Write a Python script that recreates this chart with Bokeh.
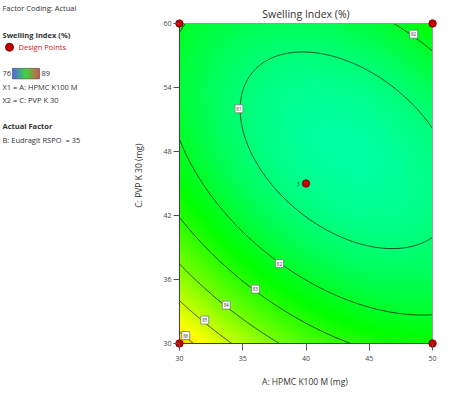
import numpy as np
from bokeh.plotting import figure
from bokeh.layouts import row
from bokeh.models import Range1d, FixedTicker
from bokeh.core.properties import value
from bokeh.embed import file_html
from bokeh.resources import INLINE

FONT = "Open Sans"

# ---------------- data ----------------
title_text = "Swelling Index (%)"
x_label = "A: HPMC K100 M  (mg)"
y_label = "C: PVP K 30  (mg)"
x_ticks = [30, 35, 40, 45, 50]
y_ticks = [30, 36, 42, 48, 54, 60]
color_low = 76
color_high = 89
contour_levels = [81, 82, 83, 84, 85, 86]

# points (A in mg, C in mg)
c81_x = [50.0, 45.2, 39.7, 36.1, 34.8, 34.8, 36.4, 38.2, 41.3, 46.5, 50.0]
c81_y = [50.0, 54.9, 57.3, 55.9, 53.1, 49.7, 45.3, 42.5, 40.6, 38.7, 39.8]
c82_x = [30.0, 32.2, 34.8, 37.4, 37.9, 42.6, 46.5, 50.0]
c82_y = [48.9, 45.3, 41.3, 37.8, 37.5, 35.0, 33.3, 32.4]
c82_top_right_x = [46.9, 48.5, 50.0]
c82_top_right_y = [60.0, 59.0, 57.3]
c82_top_left_x = [30.5, 30.0]
c82_top_left_y = [60.0, 59.1]
c83_x = [30.0, 32.1, 33.0, 36.0, 40.0, 43.2]
c83_y = [42.2, 38.7, 37.8, 35.1, 32.4, 30.0]
c84_x = [30.0, 33.7, 37.4]
c84_y = [37.3, 33.6, 30.0]
c85_x = [30.0, 32.0, 34.1]
c85_y = [33.9, 32.2, 30.0]
c86_x = [30.0, 30.5, 31.0]
c86_y = [31.0, 30.7, 30.0]

# design points
design_x = [30, 30, 50, 50, 40]
design_y = [30, 60, 30, 60, 45]
center_runs = "3"

# contour labels
label_text = ["81", "82", "82", "83", "84", "85", "86"]
label_x = [34.7, 48.5, 37.9, 36.0, 33.7, 32.0, 30.5]
label_y = [52.0, 59.0, 37.5, 35.1, 33.6, 32.2, 30.75]

# left side panel texts
info_coding = "Factor Coding: Actual"
info_response = "Swelling Index (%)"
info_points = "Design Points"
info_x1 = "X1 = A: HPMC K100 M"
info_x2 = "X2 = C: PVP K 30"
info_actual = "Actual Factor"
info_b = "B: Eudragit RSPO\u00a0\u00a0= 35"

# ---------------- geometry ----------------
FRAME_W, FRAME_H = 257, 320          # pixel size of the 30..50 x 30..60 area
xmin, xmax = min(x_ticks), max(x_ticks)
ymin, ymax = min(y_ticks), max(y_ticks)
SX = FRAME_W / (xmax - xmin)          # px per mg
SY = FRAME_H / (ymax - ymin)
PAD_L, PAD_R, PAD_T, PAD_B = 5, 5, 23, 5

# ---------------- quadratic response surface fitted through the traced contours ----------------
sets = [(81, c81_x, c81_y), (82, c82_x, c82_y), (82, c82_top_right_x, c82_top_right_y),
        (82, c82_top_left_x, c82_top_left_y), (83, c83_x, c83_y), (84, c84_x, c84_y),
        (85, c85_x, c85_y), (86, c86_x, c86_y)]
px, py, pz = [], [], []
for lvl, cx, cy in sets:
    px += cx
    py += cy
    pz += [lvl] * len(cx)
px = np.array(px, float); py = np.array(py, float); pz = np.array(pz, float)


def basis(xx, yy):
    u = (xx - 40.0) / 10.0
    v = (yy - 45.0) / 15.0
    return np.stack([np.ones_like(u), u, v, u * v, u ** 2, v ** 2], axis=-1)


coef, *_ = np.linalg.lstsq(basis(px, py), pz, rcond=None)

NX, NY = FRAME_W, FRAME_H
gx = np.linspace(xmin, xmax, NX)
gy = np.linspace(ymin, ymax, NY)
GX, GY = np.meshgrid(gx, gy)
Z = basis(GX, GY) @ coef


def hue_rgb(t):
    h = 240.0 * (1.0 - np.clip(t, 0, 1)) / 60.0
    xx = 1 - np.abs(h % 2 - 1)
    conds = [h < 1, h < 2, h < 3, h < 4, h < 5]
    r = np.select(conds, [1, xx, 0, 0, xx], 1)
    g = np.select(conds, [xx, 1, 1, xx, 0], 0)
    b = np.select(conds, [0, 0, xx, 1, 1], xx)
    return r, g, b


t = (Z - color_low) / (color_high - color_low)
r, g, b = hue_rgb(t)
img = np.empty((NY, NX), dtype=np.uint32)
view = img.view(dtype=np.uint8).reshape((NY, NX, 4))
view[..., 0] = (r * 255).astype(np.uint8)
view[..., 1] = (g * 255).astype(np.uint8)
view[..., 2] = (b * 255).astype(np.uint8)
view[..., 3] = 255

# ---------------- main plot ----------------
LW = 130
BORDER_L = 40
BORDER_R = 12
MAIN_W = BORDER_L + FRAME_W + PAD_L + PAD_R + BORDER_R
MAIN_H = 395
p = figure(width=MAIN_W, height=MAIN_H,
           x_range=Range1d(xmin - PAD_L / SX, xmax + PAD_R / SX),
           y_range=Range1d(ymin - PAD_B / SY, ymax + PAD_T / SY),
           output_backend="svg", toolbar_location=None, title=None,
           min_border_left=BORDER_L, min_border_right=BORDER_R,
           min_border_top=0, min_border_bottom=MAIN_H - FRAME_H - PAD_T - PAD_B)
p.grid.visible = False
p.outline_line_color = None
p.background_fill_color = "white"

p.image_rgba(image=[img], x=xmin, y=ymin, dw=xmax - xmin, dh=ymax - ymin)
p.contour(GX, GY, Z, levels=contour_levels, line_color="#1c1c1c", line_width=0.8)

# frame border of the contour area
p.segment(x0=[xmin, xmin], y0=[ymax, ymax], x1=[xmax, xmin], y1=[ymax, ymin],
          line_color=["#9a9a9a", "#3c3c3c"], line_width=1)
p.segment(x0=[xmin, xmax], y0=[ymin, ymin], x1=[xmax, xmax], y1=[ymin, ymax],
          line_color=["#3c3c3c", "#9a9a9a"], line_width=1)

# title (drawn inside the padded top strip)
p.text(x=[(xmin + xmax) / 2], y=[ymax + 10 / SY], text=[title_text], text_font=value(FONT),
       text_font_size="10.5px", text_align="center", text_baseline="middle", text_color="#333333")

# contour labels
p.rect(x=label_x, y=label_y, width=8, height=8, width_units="screen", height_units="screen",
       fill_color="white", line_color="#7a7a7a", line_width=0.8)
p.text(x=label_x, y=label_y, text=label_text, text_font=value(FONT), text_font_size="4.5px",
       text_align="center", text_baseline="middle", text_color="#333333")

# design points
p.scatter(x=design_x, y=design_y, size=7.5, fill_color="#c40000", line_color="#7a0000",
          line_width=0.8)
p.text(x=[design_x[4] - 0.5], y=[design_y[4]], text=[center_runs], text_font=value(FONT),
       text_font_size="5px", text_align="right", text_baseline="middle", text_color="#333333")

for ax, ticks in ((p.xaxis, x_ticks), (p.yaxis, y_ticks)):
    ax.ticker = FixedTicker(ticks=ticks)
    ax.minor_tick_line_color = None
    ax.axis_line_color = None
    ax.major_tick_line_color = "#555555"
    ax.major_label_text_font = FONT
    ax.major_label_text_font_size = "7px"
    ax.major_label_text_color = "#444444"
    ax.axis_label_text_font = FONT
    ax.axis_label_text_font_size = "8.5px"
    ax.axis_label_text_font_style = "normal"
    ax.axis_label_text_color = "#333333"
p.xaxis.major_tick_in = PAD_B
p.xaxis.major_tick_out = 2
p.yaxis.major_tick_in = PAD_L
p.yaxis.major_tick_out = 1
p.xaxis.axis_label = x_label
p.yaxis.axis_label = y_label
p.xaxis.axis_label_standoff = 12
p.yaxis.axis_label_standoff = 16
p.yaxis.major_label_standoff = 2
p.xaxis.major_label_standoff = 5

# ---------------- left information panel ----------------
LH = MAIN_H
q = figure(width=LW, height=LH, x_range=Range1d(0, LW), y_range=Range1d(0, LH),
           output_backend="svg", toolbar_location=None, x_axis_type=None, y_axis_type=None,
           min_border=0)
q.grid.visible = False
q.outline_line_color = None


def PY(page_y):
    return LH - page_y


def PX(page_x):
    return page_x


def txt(s, page_x, page_y, bold=False, color="#333333", size="7.5px"):
    q.text(x=[PX(page_x)], y=[PY(page_y)], text=[s], text_font=value(FONT), text_font_size=size,
           text_font_style="bold" if bold else "normal", text_align="left",
           text_baseline="middle", text_color=color)


txt(info_coding, 2, 8)
txt(info_response, 2, 39, bold=True)
q.scatter(x=[PX(9)], y=[PY(53)], size=8, fill_color="#c40000", line_color="#7a0000")
txt(info_points, 18, 53, color="#d02020")
txt(str(color_low), 2, 83)
# legend colour bar
bar_left, bar_right = 12, 39
n = bar_right - bar_left
stops_t = [0.0, 0.5, 1.0]
stops_rgb = [(20, 50, 230), (0, 200, 0), (200, 30, 20)]
cols = []
for i in range(n):
    tt = (i + 0.5) / n
    rr = np.interp(tt, stops_t, [s[0] for s in stops_rgb])
    gg = np.interp(tt, stops_t, [s[1] for s in stops_rgb])
    bb = np.interp(tt, stops_t, [s[2] for s in stops_rgb])
    cols.append("#%02x%02x%02x" % (int(rr), int(gg), int(bb)))
q.quad(left=[PX(bar_left + i) for i in range(n)], right=[PX(bar_left + i + 1) for i in range(n)],
       bottom=PY(89), top=PY(77), fill_color=cols, line_color=None)
q.quad(left=[PX(bar_left)], right=[PX(bar_right)], bottom=PY(89), top=PY(77),
       fill_color=None, line_color="#555555", line_width=0.6)
txt(str(color_high), 41, 83)
txt(info_x1, 2, 98)
txt(info_x2, 2, 113)
txt(info_actual, 2, 143, bold=True)
txt(info_b, 2, 158)

layout = row(q, p)
open("out.html", "w").write(file_html(layout, INLINE))
